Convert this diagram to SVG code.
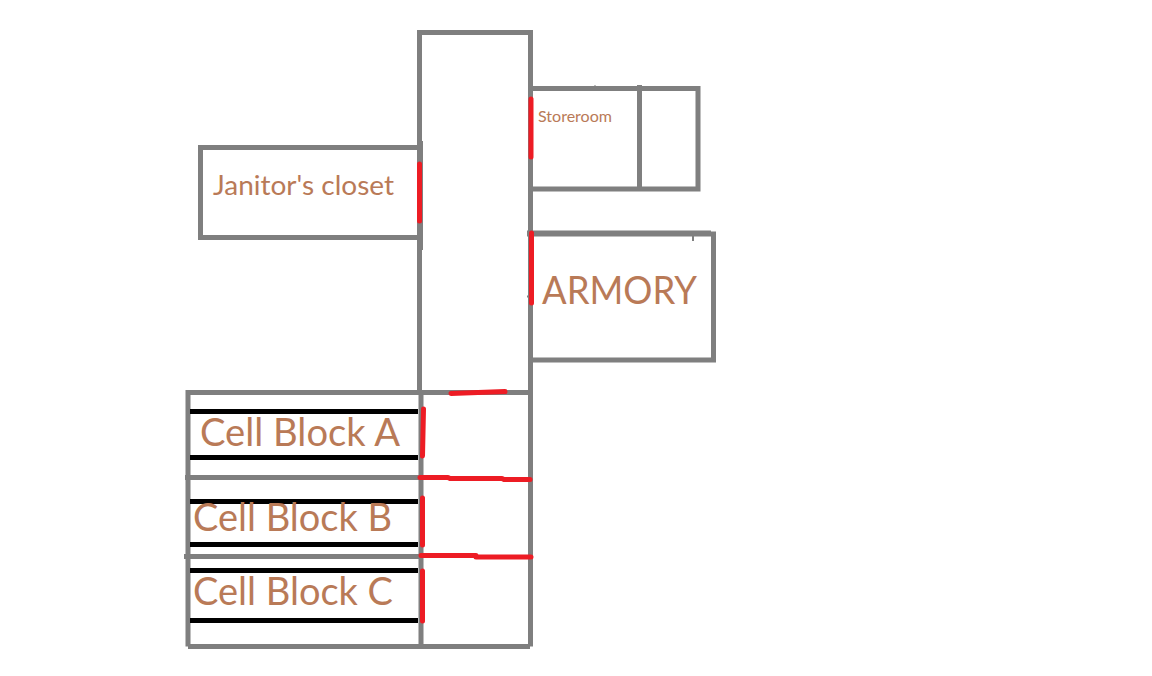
<svg xmlns="http://www.w3.org/2000/svg" width="1152" height="676" viewBox="0 0 1152 676">
<style>
.wall{fill:none;stroke:#7f7f7f;stroke-width:5}
.tick{fill:none;stroke:#7f7f7f;stroke-width:2}
.bar{fill:none;stroke:#000;stroke-width:5}
.door{fill:none;stroke:#ed1c24;stroke-width:5;stroke-linecap:round;stroke-linejoin:round}
.lbl{font-family:Lato,"Liberation Sans",sans-serif;fill:#b97a57}
</style>
<rect width="1152" height="676" fill="#fff"/>
<g id="corridor">
<path class="wall" d="M419.500 393V32.500H530.500V646.500"/>
<path class="wall" d="M421 393V646.500"/>
</g>
<g id="janitors-closet">
<path class="wall" d="M421 147.500H200.500V237.500H421"/>
<path class="wall" d="M420.500 141V250"/>
<text class="lbl" x="213" y="195" font-size="27" textLength="181" lengthAdjust="spacingAndGlyphs">Janitor's closet</text>
</g>
<g id="storeroom">
<path class="wall" d="M530 88.500H698V189H530"/>
<path class="wall" d="M639.500 85V188"/>
<path class="tick" d="M595 85.500V88M683 89V91M595 189V191"/>
<text class="lbl" x="538" y="122" font-size="15" textLength="74" lengthAdjust="spacingAndGlyphs">Storeroom</text>
</g>
<g id="armory">
<path class="wall" style="stroke-width:6" d="M527 233.500H711"/>
<path class="wall" d="M713.500 231.500V360H530"/>
<path class="tick" d="M693 235V241M527 296.500H530"/>
<text class="lbl" x="542" y="304" font-size="38" textLength="155" lengthAdjust="spacingAndGlyphs">ARMORY</text>
</g>
<g id="cell-block-a">
<path class="wall" d="M188 646.500V392.500H530"/>
<path class="wall" d="M185 477.500H420"/>
<path class="bar" d="M190 411.500H418M190 457.500H418"/>
<text class="lbl" x="200" y="446" font-size="38" textLength="200" lengthAdjust="spacingAndGlyphs">Cell Block A</text>
</g>
<g id="cell-block-b">
<path class="wall" d="M184 556.500H420"/>
<path class="bar" d="M190 501.500H418M190 544.500H418"/>
<text class="lbl" x="193" y="531" font-size="38" textLength="199" lengthAdjust="spacingAndGlyphs">Cell Block B</text>
</g>
<g id="cell-block-c">
<path class="wall" d="M188 646.500H530"/>
<path class="bar" d="M190 570.500H418M190 620.500H418"/>
<text class="lbl" x="193" y="605" font-size="38" textLength="200" lengthAdjust="spacingAndGlyphs">Cell Block C</text>
</g>
<g id="connectors">
<path class="door" d="M419.500 164V221"/>
<path class="door" d="M531 99V157"/>
<path class="door" d="M531.500 233V303"/>
<path class="door" d="M451 393.500L478 392.500L505 391.500"/>
<path class="door" d="M423.500 409L422.500 456"/>
<path class="door" d="M420 477.500H448L450 478.500H502L504 479.500H530"/>
<path class="door" d="M422.500 498V545"/>
<path class="door" d="M421 555.500H476V557H531"/>
<path class="door" d="M422.500 571V621"/>
</g>
</svg>
